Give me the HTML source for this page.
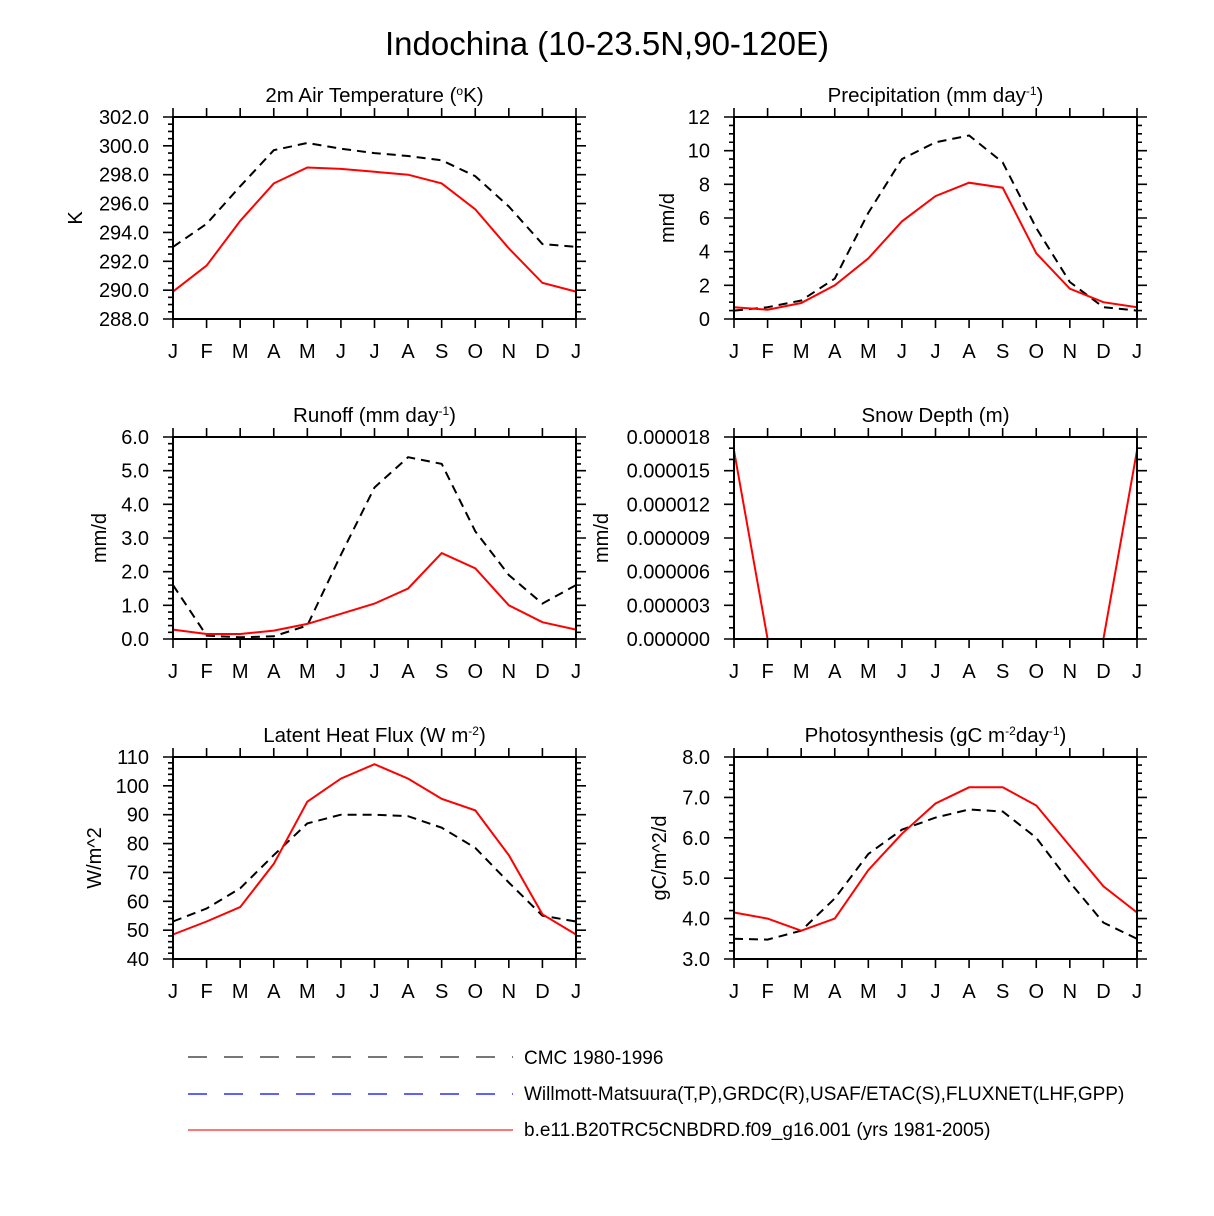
<!DOCTYPE html>
<html><head><meta charset="utf-8"><style>
body{margin:0;background:#fff;}
svg{display:block;font-family:"Liberation Sans",sans-serif;}
</style></head><body>
<svg id="c" width="1214" height="1216" viewBox="0 0 1214 1216">
<text x="607" y="55" font-size="33" text-anchor="middle">Indochina (10-23.5N,90-120E)</text>
<g>
<line x1="188" y1="1057" x2="513" y2="1057" stroke="#777" stroke-width="2" stroke-dasharray="19,17"/>
<text x="524" y="1064" font-size="19">CMC 1980-1996</text>
<line x1="188" y1="1094" x2="513" y2="1094" stroke="#00f" stroke-width="1.2" stroke-dasharray="19,17"/>
<text x="524" y="1100" font-size="19">Willmott-Matsuura(T,P),GRDC(R),USAF/ETAC(S),FLUXNET(LHF,GPP)</text>
<line x1="188" y1="1130" x2="513" y2="1130" stroke="#f77" stroke-width="2"/>
<text x="524" y="1136" font-size="19">b.e11.B20TRC5CNBDRD.f09_g16.001 (yrs 1981-2005)</text>
</g>
</svg>
<script>
const months=["J","F","M","A","M","J","J","A","S","O","N","D","J"];
const tempModel=[289.9,291.7,294.8,297.4,298.5,298.4,298.2,298.0,297.4,295.6,292.9,290.5,289.9];
const tempObs=[293.0,294.6,297.2,299.7,300.2,299.8,299.5,299.3,299.0,297.9,295.8,293.2,293.0];
const precModel=[0.7,0.55,0.95,2.0,3.6,5.8,7.3,8.1,7.8,3.9,1.8,1.0,0.7];
const precObs=[0.5,0.7,1.1,2.4,6.3,9.5,10.5,10.9,9.3,5.4,2.2,0.7,0.5];
const runModel=[0.28,0.15,0.15,0.25,0.45,0.75,1.05,1.5,2.55,2.1,1.0,0.5,0.28];
const runObs=[1.6,0.1,0.05,0.08,0.4,2.5,4.5,5.4,5.2,3.2,1.9,1.05,1.6];
const snowModel=[0.0000168,0,0,0,0,0,0,0,0,0,0,0,0.0000168];
const snowObs=[0,0,0,0,0,0,0,0,0,0,0,0,0];
const lhfModel=[48.5,53,58,73,94.5,102.5,107.5,102.5,95.5,91.5,76,55.5,48.5];
const lhfObs=[53,57.5,64.5,76,87,90,90,89.5,85.5,78.5,66.5,55,53];
const gppModel=[4.15,4.0,3.7,4.0,5.2,6.1,6.85,7.25,7.25,6.8,5.8,4.8,4.15];
const gppObs=[3.5,3.48,3.7,4.5,5.6,6.2,6.5,6.7,6.65,6.0,4.9,3.9,3.5];
const tempTicks=["288.0","290.0","292.0","294.0","296.0","298.0","300.0","302.0"];
const precTicks=["0","2","4","6","8","10","12"];
const runTicks=["0.0","1.0","2.0","3.0","4.0","5.0","6.0"];
const snowTicks=["0.000000","0.000003","0.000006","0.000009","0.000012","0.000015","0.000018"];
const lhfTicks=["40","50","60","70","80","90","100","110"];
const gppTicks=["3.0","4.0","5.0","6.0","7.0","8.0"];

const NS="http://www.w3.org/2000/svg";
const svg=document.getElementById("c");
function mk(tag,attrs,parent){const e=document.createElementNS(NS,tag);for(const k in attrs)e.setAttribute(k,attrs[k]);(parent||svg).appendChild(e);return e;}

function panel(key,x0,y0,title,ytitle,ytx,ticks,minors,model,obs){
  const W=403,H=202,x1=x0+W,y1=y0+H;
  const lo=parseFloat(ticks[0]),hi=parseFloat(ticks[ticks.length-1]);
  const xs=i=>x0+i*W/12, ys=v=>y1-(v-lo)/(hi-lo)*H;
  const g=mk("g",{});
  
  
  const t=mk("text",{x:(x0+x1)/2,y:y0-15,"font-size":"20.5","text-anchor":"middle"},g);
  t.innerHTML=title;
  
  
  const yt=mk("text",{x:0,y:0,"font-size":"20","text-anchor":"middle",transform:`translate(${ytx},${(y0+y1)/2}) rotate(-90)`},g);
  yt.textContent=ytitle;
  
  
  let d="";
  for(let i=0;i<13;i++){const x=xs(i);d+=`M${x},${y0}v-9M${x},${y1}v9`;}
  const n=ticks.length-1;
  for(let j=0;j<=n;j++){const y=y0+H-j*H/n;d+=`M${x0},${y}h-10M${x1},${y}h10`;
    if(j<n){for(let m=1;m<=minors;m++){const yy=y-m*H/n/(minors+1);d+=`M${x0},${yy}h-5M${x1},${yy}h5`;}}}
  const tk=mk("path",{d:d,stroke:"#000","stroke-width":"1.6",fill:"none"},g);
  
  
  ticks.forEach((s,j)=>{const e=mk("text",{x:x0-24,y:y1-j*H/n+7,"font-size":"20","text-anchor":"end"},g);e.textContent=s;
    
    });
  months.forEach((s,i)=>{const e=mk("text",{x:xs(i),y:y1+39,"font-size":"20","text-anchor":"middle"},g);e.textContent=s;
    
    });
  const pts=a=>a.map((v,i)=>xs(i).toFixed(1)+","+ys(v).toFixed(1)).join(" ");
  const lo1=mk("polyline",{points:pts(obs),fill:"none",stroke:"#000","stroke-width":"2","stroke-dasharray":"9,6"},g);
  
  
  const lm=mk("polyline",{points:pts(model),fill:"none",stroke:"#f00","stroke-width":"2"},g);
  
  
  const fr=mk("rect",{x:x0,y:y0,width:W,height:H,fill:"none",stroke:"#000","stroke-width":"2"},g);
  
  
}
panel("temperature",173,117,'2m Air Temperature (<tspan baseline-shift="super" font-size="12">o</tspan>K)',"K",82,tempTicks,3,tempModel,tempObs);
panel("precipitation",734,117,'Precipitation (mm day<tspan baseline-shift="super" font-size="12">-1</tspan>)',"mm/d",674,precTicks,3,precModel,precObs);
panel("runoff",173,437,'Runoff (mm day<tspan baseline-shift="super" font-size="12">-1</tspan>)',"mm/d",106,runTicks,4,runModel,runObs);
panel("snow-depth",734,437,'Snow Depth (m)',"mm/d",608,snowTicks,2,snowModel,snowObs);
panel("latent-heat",173,757,'Latent Heat Flux (W m<tspan baseline-shift="super" font-size="12">-2</tspan>)',"W/m^2",101,lhfTicks,4,lhfModel,lhfObs);
panel("photosynthesis",734,757,'Photosynthesis (gC m<tspan baseline-shift="super" font-size="12">-2</tspan>day<tspan baseline-shift="super" font-size="12">-1</tspan>)',"gC/m^2/d",666,gppTicks,4,gppModel,gppObs);
</script>
</body></html>
